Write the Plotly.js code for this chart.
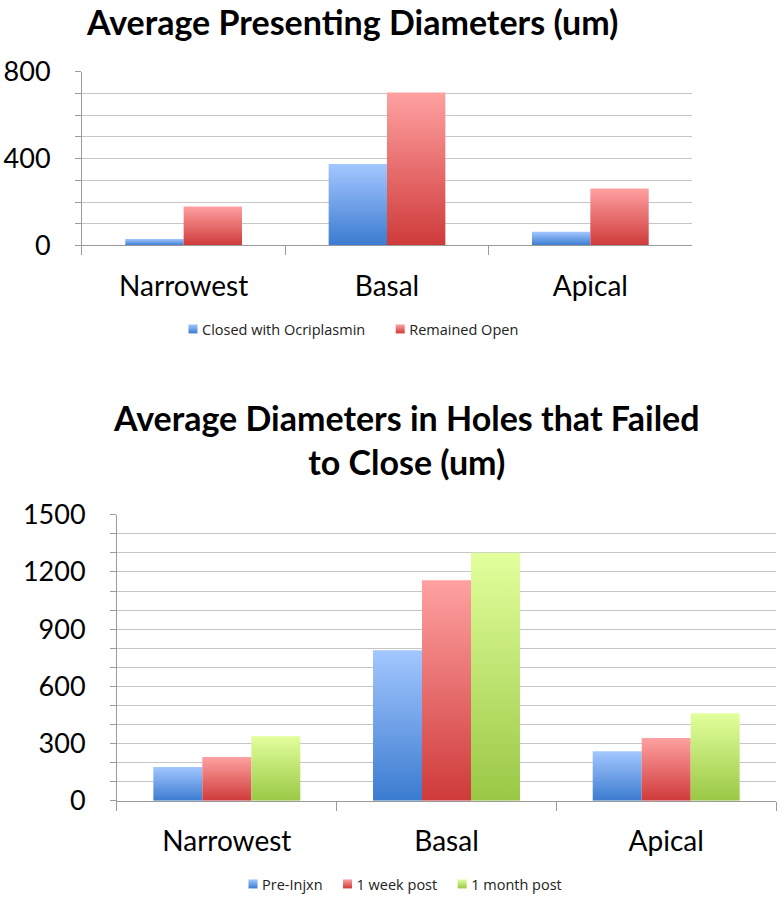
<!DOCTYPE html>
<html>
<head>
<meta charset="utf-8">
<script src="https://cdn.plot.ly/plotly-3.0.1.min.js"></script>
<style>html,body{margin:0;padding:0;background:#fff}#chart{width:783px;height:900px}</style>
</head>
<body>
<div id="chart"></div>
<script>
// ---- data ----
const categories = ["Narrowest", "Basal", "Apical"];
const topSeriesNames = ["Closed with Ocriplasmin", "Remained Open"];
const closedWithOcriplasmin = [30, 375, 63];
const remainedOpen = [180, 705, 263];
const topTickVals = [0, 400, 800];

const bottomSeriesNames = ["Pre-Injxn", "1 week post", "1 month post"];
const preInjxn = [178, 789, 260];
const oneWeekPost = [230, 1156, 330];
const oneMonthPost = [339, 1301, 459];
const bottomTickVals = [0, 300, 600, 900, 1200, 1500];

const topTitle = "Average Presenting Diameters (um)";
const bottomTitle = "Average Diameters in Holes that Failed<br>to Close (um)";

// ---- styles ----
const FONT = "Lato, 'Open Sans', sans-serif";
const gradients = {
  blue: ["#a3c7ff", "#3b7bd0"],
  red: ["#ffa1a1", "#cf3a3a"],
  green: ["#e2ff9c", "#9ac845"]
};
const solid = { blue: "#5b8fdc", red: "#e05757", green: "#b5dc6a" };

function bar(name, x, y, color, xa, ya, legend, width, offset) {
  return {
    type: "bar", name: name, x: x, y: y,
    xaxis: xa, yaxis: ya, legend: legend,
    width: width, offset: offset,
    marker: { color: solid[color], line: { width: 0 } },
    meta: color, hoverinfo: "none"
  };
}

const wTop = 0.287, wBot = 0.223;
const data = [
  bar(topSeriesNames[0], categories, closedWithOcriplasmin, "blue", "x", "y", "legend", wTop, -wTop),
  bar(topSeriesNames[1], categories, remainedOpen, "red", "x", "y", "legend", wTop, 0),
  bar(bottomSeriesNames[0], categories, preInjxn, "blue", "x2", "y2", "legend2", wBot, -1.5 * wBot),
  bar(bottomSeriesNames[1], categories, oneWeekPost, "red", "x2", "y2", "legend2", wBot, -0.5 * wBot),
  bar(bottomSeriesNames[2], categories, oneMonthPost, "green", "x2", "y2", "legend2", wBot, 0.5 * wBot)
];

const gridColor = "#c6c6c6";
const axisColor = "#9a9a9a";

function xAxis(domain, anchor) {
  return {
    domain: domain, anchor: anchor, type: "category",
    showline: true, linecolor: axisColor, linewidth: 1,
    ticks: "outside", tickson: "boundaries", ticklen: 9, tickcolor: axisColor,
    tickfont: { family: FONT, size: 28, color: "#000" },
    ticklabelstandoff: 16,
    showgrid: false, zeroline: false, fixedrange: true
  };
}
function yAxis(domain, anchor, range, ticks) {
  return {
    domain: domain, anchor: anchor, range: range,
    tickmode: "array", tickvals: ticks,
    showline: true, linecolor: axisColor, linewidth: 1,
    ticks: "outside", ticklen: 6, tickcolor: axisColor,
    tickfont: { family: FONT, size: 27, color: "#000" },
    ticklabelstandoff: 19,
    showgrid: true, gridcolor: gridColor, gridwidth: 1,
    minor: { dtick: 100, showgrid: true, gridcolor: gridColor, gridwidth: 1, ticks: "outside", ticklen: 6, tickcolor: axisColor },
    zeroline: false, fixedrange: true
  };
}

const LEGEND_FAMILY = "'Open Sans', sans-serif";
const LEGEND_SIZE = 14.5;
const legendFont = { family: LEGEND_FAMILY, size: LEGEND_SIZE, color: "#222" };

const layout = {
  width: 783, height: 900,
  margin: { l: 0, r: 0, t: 0, b: 0 },
  paper_bgcolor: "#fff", plot_bgcolor: "#fff",
  showlegend: true,
  barmode: "overlay",
  xaxis: xAxis([0.1047, 0.8838], "y"),
  yaxis: yAxis([0.727, 0.92], "x", [0, 800], topTickVals),
  xaxis2: xAxis([0.1494, 0.9911], "y2"),
  yaxis2: yAxis([0.1092, 0.4274], "x2", [0, 1500], bottomTickVals),
  legend: {
    orientation: "h", x: 162 / 783, xanchor: "left", y: 1 - 329 / 900, yanchor: "middle",
    font: legendFont, itemwidth: 30, tracegroupgap: 0, bgcolor: "rgba(0,0,0,0)"
  },
  legend2: {
    orientation: "h", x: 222 / 783, xanchor: "left", y: 1 - 885 / 900, yanchor: "middle",
    font: legendFont, itemwidth: 30, tracegroupgap: 0, bgcolor: "rgba(0,0,0,0)"
  },
  annotations: [
    { text: topTitle, xref: "paper", yref: "paper", x: 352 / 783, y: 1 - 22 / 900,
      xanchor: "center", yanchor: "middle", showarrow: false,
      font: { family: FONT, size: 34, color: "#000", weight: "bold" } },
    { text: bottomTitle, xref: "paper", yref: "paper", x: 406 / 783, y: 1 - 440 / 900,
      xanchor: "center", yanchor: "middle", showarrow: false,
      font: { family: FONT, size: 34, color: "#000", weight: "bold" } }
  ]
};

// gap (px) between the end of one legend label and the start of the next label
const legendLabelGap = { legend: 44, legend2: 34 };

function measure(str) {
  const c = measure.c || (measure.c = document.createElement("canvas").getContext("2d"));
  c.font = LEGEND_SIZE + "px " + LEGEND_FAMILY;
  return c.measureText(str).width;
}

Plotly.newPlot("chart", data, layout, { staticPlot: true, displayModeBar: false }).then(function (gd) {
  const svg = gd.querySelector("svg.main-svg");
  const ns = "http://www.w3.org/2000/svg";
  let defs = svg.querySelector("defs");
  if (!defs) { defs = document.createElementNS(ns, "defs"); svg.insertBefore(defs, svg.firstChild); }
  Object.keys(gradients).forEach(function (k) {
    const g = document.createElementNS(ns, "linearGradient");
    g.setAttribute("id", "grad-" + k);
    g.setAttribute("x1", "0"); g.setAttribute("y1", "0");
    g.setAttribute("x2", "0"); g.setAttribute("y2", "1");
    [[0, gradients[k][0]], [1, gradients[k][1]]].forEach(function (s) {
      const st = document.createElementNS(ns, "stop");
      st.setAttribute("offset", s[0]); st.setAttribute("stop-color", s[1]);
      g.appendChild(st);
    });
    defs.appendChild(g);
  });
  gd.querySelectorAll(".barlayer .trace").forEach(function (t) {
    const d = t.__data__;
    const tr = d && d[0] && d[0].trace;
    if (!tr) return;
    t.querySelectorAll("path").forEach(function (p) { p.style.fill = "url(#grad-" + tr.meta + ")"; });
  });
  // legend swatches: smaller squares placed closer to their text; tighter item spacing
  Object.keys(legendLabelGap).forEach(function (lg) {
    const box = gd.querySelector("g." + lg);
    if (!box) return;
    let nextX = null;
    box.querySelectorAll(".traces").forEach(function (t) {
      const d = t.__data__;
      const tr = d && d[0] && d[0].trace;
      if (!tr) return;
      t.querySelectorAll(".legendpoints path").forEach(function (p) {
        p.style.fill = "url(#grad-" + tr.meta + ")";
        p.setAttribute("d", "M4.5,4.5H-4.5V-4.5H4.5Z");
        p.setAttribute("transform", "translate(31,0)");
      });
      const m = /translate\(\s*([-\d.]+)[ ,]+([-\d.]+)\s*\)/.exec(t.getAttribute("transform") || "");
      if (!m) return;
      const x = parseFloat(m[1]), y = parseFloat(m[2]);
      const len = measure(tr.name);
      const newX = nextX === null ? x : nextX;
      t.setAttribute("transform", "translate(" + newX + "," + y + ")");
      nextX = newX + len + legendLabelGap[lg];
    });
  });
});
</script>
</body>
</html>
